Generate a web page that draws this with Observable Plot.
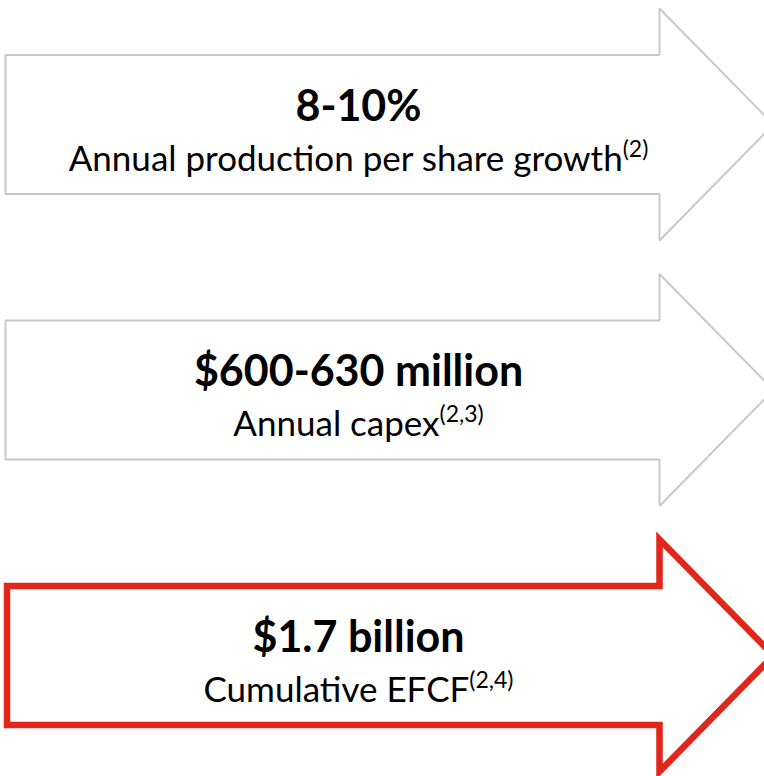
<!DOCTYPE html>
<html>
<head>
<meta charset="utf-8">
<script src="https://cdn.jsdelivr.net/npm/d3@7"></script>
<script src="https://cdn.jsdelivr.net/npm/@observablehq/plot@0.6"></script>
<style>
  html, body { margin: 0; padding: 0; background: #ffffff; }
  #chart { width: 764px; height: 776px; }
  svg { display: block; }
</style>
</head>
<body>
<div id="chart"></div>
<script>
// ---- data ----
const titles = ["8-10%", "$600-630 million", "$1.7 billion"];
const subtitles = ["Annual production per share growth", "Annual capex", "Cumulative EFCF"];
const notes = ["(2)", "(2,3)", "(2,4)"];
const highlighted = [false, false, true];

// ---- layout (in layout units) ----
const W = 764, H = 776;
const layout = {
  firstCenter: 124, step: 265.5,
  shaftLeft: 5, headStart: 659, tip: 773,
  shaftHalf: 69.5, headHalf: 116,
  textX: 358, titleDy: -4, subDy: 46
};
const gray = "#c7c8cc", red = "#e1261c";

const items = titles.map((t, i) => ({
  i, title: t, subtitle: subtitles[i], note: notes[i], hi: highlighted[i],
  cy: layout.firstCenter + i * layout.step
}));

const arrowPts = items.flatMap(d => {
  const L = layout, x0 = d.hi ? L.shaftLeft + 1.5 : L.shaftLeft;
  return [
    [x0, d.cy - L.shaftHalf], [L.headStart, d.cy - L.shaftHalf], [L.headStart, d.cy - L.headHalf],
    [L.tip, d.cy], [L.headStart, d.cy + L.headHalf], [L.headStart, d.cy + L.shaftHalf],
    [x0, d.cy + L.shaftHalf]
  ].map(([x, y]) => ({x, y, i: d.i, hi: d.hi}));
});

const font = "Lato, 'Open Sans', sans-serif";

const plot = Plot.plot({
  width: W, height: H,
  margin: 0,
  x: {domain: [0, W], range: [0, W], axis: null},
  y: {domain: [0, H], range: [0, H], axis: null},
  marks: [
    Plot.line(arrowPts.filter(d => !d.hi), {x: "x", y: "y", z: "i", curve: "linear-closed",
      stroke: gray, strokeWidth: 1.9, strokeLinejoin: "miter", fill: "white"}),
    Plot.line(arrowPts.filter(d => d.hi), {x: "x", y: "y", z: "i", curve: "linear-closed",
      stroke: red, strokeWidth: 6.5, strokeLinejoin: "miter", strokeMiterlimit: 10, fill: "white"}),
    Plot.text(items, {x: () => layout.textX, y: d => d.cy + layout.titleDy, text: "title",
      fontSize: 43, fontWeight: "bold", fontFamily: font, fill: "#000", lineAnchor: "bottom", textAnchor: "middle"}),
    Plot.text(items, {x: () => layout.textX, y: d => d.cy + layout.subDy, text: "subtitle",
      fontSize: 35, fontFamily: font, fill: "#000", lineAnchor: "bottom", textAnchor: "middle",
      className: "subtitle"})
  ]
});

// add superscript footnote references
d3.select(plot).selectAll(".subtitle text").each(function(_, k) {
  d3.select(this).append("tspan")
    .attr("baseline-shift", "super")
    .attr("font-size", 23)
    .text(items[k].note);
});

document.getElementById("chart").appendChild(plot);
</script>
</body>
</html>
